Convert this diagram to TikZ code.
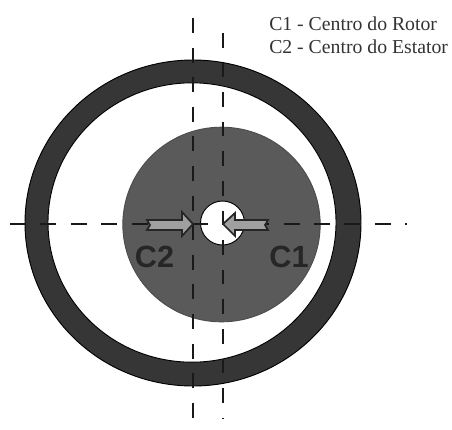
\documentclass[tikz,border=0pt]{standalone}
\usepackage{xcolor}
\usepackage{fontspec}
\setmainfont{Liberation Serif}
\setsansfont{Liberation Sans}
\usetikzlibrary{shapes.geometric, positioning}
\definecolor{ringgray}{HTML}{363636}
\definecolor{rotorgray}{HTML}{5A5A5A}
\definecolor{arrowgray}{HTML}{A0A0A0}

\begin{document}
\begin{tikzpicture}[
    x=0.75pt, y=-0.75pt,
    disc/.style = {ellipse, draw=black, line width=0.7pt, inner sep=0pt, outer sep=0pt},
    axis/.style = {black!90, line width=0.9pt},
    blockarrow/.style = {draw=black!85, fill=arrowgray, line width=1.3pt, line join=miter},
    tag/.style = {font=\sffamily\bfseries\fontsize{23}{23}\selectfont, text=black!85, inner sep=0pt},
    legend/.style = {font=\fontsize{14.8}{17}\selectfont, text=black!80, align=left, inner sep=0pt}
]
\useasboundingbox (0,0) rectangle (452,429);

% Stator and rotor
\node (stator) [disc, fill=ringgray, minimum width=252pt, minimum height=244.5pt] at (193,223) {};
\node (statorin) [disc, fill=white, minimum width=216pt, minimum height=209.5pt] at (192,222.5) {};
\node (rotor) [disc, draw=black!70, fill=rotorgray, minimum width=148pt, minimum height=146pt] at (221.5,224.5) {};
\node (hole) [disc, fill=white, minimum width=33pt, minimum height=33pt] at (222.5,223) {};

% Centre lines
\coordinate (vaTop) at (193,18);
\coordinate (vaBot) at (193,418);
\coordinate (vbTop) at (223,33);
\coordinate (vbBot) at (223,418);
\coordinate (hLeft) at (10,224);
\coordinate (hRight) at (407,224);
\draw [axis, dash pattern=on 11.25pt off 10.95pt] (vaTop) -- (vaBot);
\draw [axis, dash pattern=on 10.9pt off 11.3pt] (vbTop) -- (vbBot);
\draw [axis, dash pattern=on 12pt off 10.8pt] (hLeft) -- (hRight);

% Arrows towards the centres
\draw [blockarrow] (147,220) -- (182,220) -- (182,212) -- (193,224) -- (182,236) -- (182,230) -- (147,230) -- (150,225) -- cycle;
\draw [blockarrow] (268,220) -- (235,220) -- (235,213) -- (223,224) -- (235,236) -- (235,230) -- (268,230) -- (265,225) -- cycle;

% Labels
\node (ctwo) [tag] at (154.5,257) {C2};
\node (cone) [tag] at (289,257) {C1};
\node (legend) [legend, anchor=north west] at (269,17) {C1 - Centro do Rotor\\C2 - Centro do Estator};

\end{tikzpicture}
\end{document}
